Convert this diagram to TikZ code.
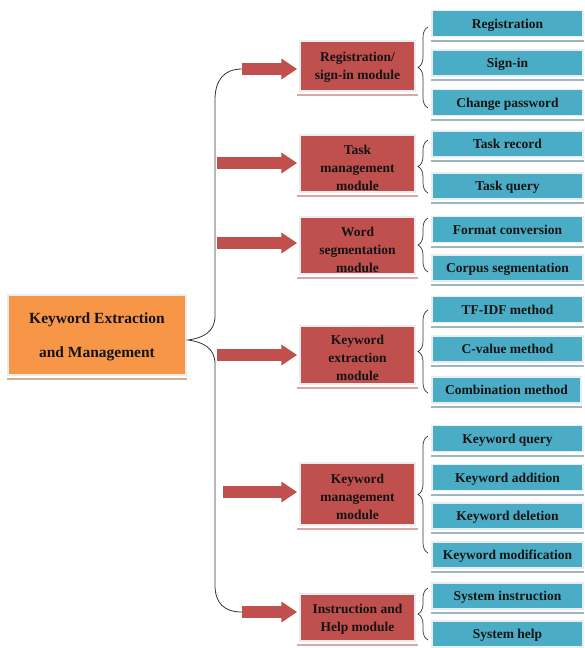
\documentclass[tikz,border=0pt]{standalone}
\usepackage{fontspec}
\setmainfont{Liberation Serif}
\usetikzlibrary{arrows.meta,decorations.pathreplacing,calc}
\definecolor{korange}{HTML}{F79646}
\definecolor{kred}{HTML}{C0504D}
\definecolor{kblue}{HTML}{4BACC6}
\definecolor{kbshadow}{HTML}{9DB6C2}
\definecolor{krshadow}{HTML}{D9A9A6}
\definecolor{koshadow}{HTML}{D9AE8A}
\definecolor{kborder}{HTML}{E9EDEF}
\definecolor{ktext}{HTML}{141414}
\newcommand{\kpush}[1]{\rule{0pt}{#1}}
\begin{document}
\begin{tikzpicture}[x=1pt,y=-1pt,
 box/.style={draw=kborder, line width=1.5pt, inner sep=0pt, align=center, text=ktext, text depth=0pt, font=\bfseries\fontsize{13.5}{18}\selectfont},
 leaf/.style={box, fill=kblue, minimum width=151pt, minimum height=26pt},
 mod/.style={box, fill=kred, minimum width=115pt},
 root/.style={box, fill=korange, minimum width=178pt, minimum height=80pt, font=\bfseries\fontsize{15.5}{34}\selectfont},
 fat/.style={kred, line width=11.5pt, -{Triangle[width=20pt,length=16pt]}, shorten >=2pt},
 brc/.style={decorate, decoration={brace, amplitude=10pt}, line width=0.7pt, black!80},
 trunk/.style={line width=0.8pt, black!80},
 shad/.style={line width=2pt}
]
\useasboundingbox (0,0) rectangle (584,648);

% root
\node[root] (root) at (97,335) {Keyword Extraction\\and Management};

% modules
\node[mod, minimum height=50pt] (r1) at (357.5,66) {Registration/\\sign-in module};
\node[mod, minimum height=57pt] (r2) at (357.5,163.5) {\kpush{17pt}Task\\management\\module};
\node[mod, minimum height=57pt] (r3) at (357.5,245.5) {\kpush{17pt}Word\\segmentation\\module};
\node[mod, minimum height=58pt] (r4) at (357.5,355) {\kpush{14.5pt}Keyword\\extraction\\module};
\node[mod, minimum height=62pt] (r5) at (357.5,494) {\kpush{14.5pt}Keyword\\management\\module};
\node[mod, minimum height=47pt] (r6) at (357.5,617.5) {Instruction and\\Help module};

% leaves
\node[leaf] (b1) at (507.5,23.5) {Registration};
\node[leaf] (b2) at (507.5,63) {Sign-in};
\node[leaf] (b3) at (507.5,102.5) {Change password};
\node[leaf] (b4) at (507.5,144) {Task record};
\node[leaf] (b5) at (507.5,186) {Task query};
\node[leaf] (b6) at (507.5,229.5) {Format conversion};
\node[leaf] (b7) at (507.5,268) {Corpus segmentation};
\node[leaf] (b8) at (507.5,309.5) {TF-IDF method};
\node[leaf] (b9) at (507.5,349) {C-value method};
\node[leaf, minimum width=149pt] (b10) at (506.5,390) {Combination method};
\node[leaf] (b11) at (507.5,438.5) {Keyword query};
\node[leaf] (b12) at (507.5,477.5) {Keyword addition};
\node[leaf] (b13) at (507.5,516) {Keyword deletion};
\node[leaf] (b14) at (507.5,555) {Keyword modification};
\node[leaf] (b15) at (507.5,596) {System instruction};
\node[leaf] (b16) at (507.5,634) {System help};

% shadows
\foreach \n in {b1,b2,b3,b4,b5,b6,b7,b8,b9,b10,b11,b12,b13,b14,b15,b16}
  \draw[shad, kbshadow] ($(\n.south west)+(0,3.5)$) -- ($(\n.south east)+(0,3.5)$);
\foreach \n in {r1,r2,r3,r4,r5,r6}
  \draw[shad, krshadow] ($(\n.south west)+(-2,3)$) -- ($(\n.south east)+(2,3)$);
\draw[shad, koshadow] ($(root.south west)+(0,3)$) -- ($(root.south east)+(0,3)$);

% trunk brace
\coordinate (c1) at (242,69);
\coordinate (c2) at (217,163);
\coordinate (c3) at (217,243);
\coordinate (c4) at (217,355);
\coordinate (c5) at (223,492);
\coordinate (c6) at (242,612);
\coordinate (tip) at (188,340);
\draw[trunk] (c1) .. controls (224,69) and (215,80) .. (215,100) -- (215,316)
  .. controls (215,332) and (203,338) .. (tip)
  .. controls (203,342) and (215,348) .. (215,364) -- (215,585)
  .. controls (215,603) and (224,612) .. (c6);

% arrows
\draw[fat] (c1) -- (c1 -| r1.west);
\draw[fat] (c2) -- (c2 -| r2.west);
\draw[fat] (c3) -- (c3 -| r3.west);
\draw[fat] (c4) -- (c4 -| r4.west);
\draw[fat] (c5) -- (c5 -| r5.west);
\draw[fat] (c6) -- (c6 -| r6.west);

% small braces
\coordinate (s1a) at (428,108); \coordinate (s1b) at (428,27);
\coordinate (s2a) at (428,193); \coordinate (s2b) at (428,140);
\coordinate (s3a) at (428,272); \coordinate (s3b) at (428,218);
\coordinate (s4a) at (428,393); \coordinate (s4b) at (428,310);
\coordinate (s5a) at (428,553); \coordinate (s5b) at (428,436);
\coordinate (s6a) at (428,640); \coordinate (s6b) at (428,588);
\draw[brc] (s1a) -- (s1b);
\draw[brc] (s2a) -- (s2b);
\draw[brc] (s3a) -- (s3b);
\draw[brc] (s4a) -- (s4b);
\draw[brc] (s5a) -- (s5b);
\draw[brc] (s6a) -- (s6b);
\end{tikzpicture}
\end{document}
